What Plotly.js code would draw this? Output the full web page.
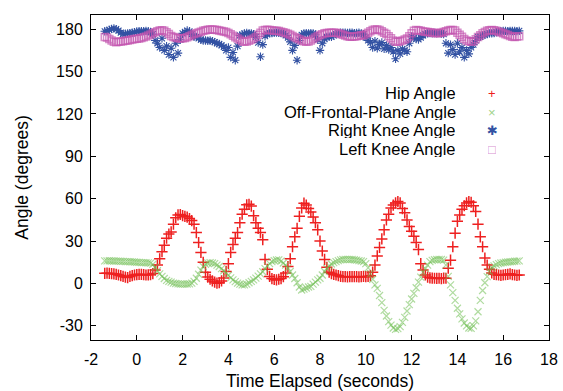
<!DOCTYPE html>
<html>
<head>
<meta charset="utf-8">
<script src="https://cdn.plot.ly/plotly-3.0.1.min.js"></script>
<style>html,body{margin:0;padding:0;background:#fff;}#chart{width:563px;height:391px;}</style>
</head>
<body>
<div id="chart"></div>
<script>
// Time samples (seconds)
var timeElapsed = [
 -1.4,-1.3,-1.2,-1.1,-1.0,-0.9,-0.8,-0.7,-0.6,-0.5,
 -0.4,-0.3,-0.2,-0.1,0.0,0.1,0.2,0.3,0.4,0.5,
 0.6,0.7,0.8,0.9,1.0,1.1,1.2,1.3,1.4,1.5,
 1.6,1.7,1.8,1.9,2.0,2.1,2.2,2.3,2.4,2.5,
 2.6,2.7,2.8,2.9,3.0,3.1,3.2,3.3,3.4,3.5,
 3.6,3.7,3.8,3.9,4.0,4.1,4.2,4.3,4.4,4.5,
 4.6,4.7,4.8,4.9,5.0,5.1,5.2,5.3,5.4,5.5,
 5.6,5.7,5.8,5.9,6.0,6.1,6.2,6.3,6.4,6.5,
 6.6,6.7,6.8,6.9,7.0,7.1,7.2,7.3,7.4,7.5,
 7.6,7.7,7.8,7.9,8.0,8.1,8.2,8.3,8.4,8.5,
 8.6,8.7,8.8,8.9,9.0,9.1,9.2,9.3,9.4,9.5,
 9.6,9.7,9.8,9.9,10.0,10.1,10.2,10.3,10.4,10.5,
 10.6,10.7,10.8,10.9,11.0,11.1,11.2,11.3,11.4,11.5,
 11.6,11.7,11.8,11.9,12.0,12.1,12.2,12.3,12.4,12.5,
 12.6,12.7,12.8,12.9,13.0,13.1,13.2,13.3,13.4,13.5,
 13.6,13.7,13.8,13.9,14.0,14.1,14.2,14.3,14.4,14.5,
 14.6,14.7,14.8,14.9,15.0,15.1,15.2,15.3,15.4,15.5,
 15.6,15.7,15.8,15.9,16.0,16.1,16.2,16.3,16.4,16.5,
 16.6,16.7
];

var hipAngle = [
 7.2,7.3,7.1,7.0,6.8,6.5,6.0,5.6,5.0,4.5,
 4.2,5.0,5.6,6.0,6.3,6.5,6.4,6.2,6.0,6.1,
 6.3,7.0,9.5,13.0,17.5,22.5,27.0,32.0,35.0,36.5,
 42.0,46.5,48.5,48.8,48.0,47.5,47.0,46.0,44.5,42.0,
 36.0,29.0,22.0,15.0,8.0,4.5,3.0,1.8,1.0,0.2,
 0.5,1.8,3.8,8.5,14.0,22.0,27.5,32.0,36.0,43.0,
 49.0,52.5,55.7,56.0,54.8,48.0,43.0,39.0,36.0,31.0,
 17.0,10.0,5.0,3.5,2.8,2.5,3.0,3.5,4.8,7.5,
 12.0,17.5,26.0,33.0,39.0,47.5,53.5,56.8,55.5,53.0,
 50.5,47.0,43.0,38.0,30.0,23.0,17.0,11.5,8.0,7.0,
 6.5,6.0,5.5,5.0,4.8,4.8,4.7,4.8,4.9,4.8,
 4.8,4.7,4.8,5.0,4.8,5.0,5.5,8.0,13.0,19.5,
 25.5,31.5,38.0,45.0,49.0,53.5,55.5,57.0,58.0,57.0,
 53.0,50.0,45.0,40.3,37.0,33.5,29.0,24.0,14.0,9.5,
 6.0,4.5,4.0,3.8,3.7,3.6,3.7,3.5,3.8,3.7,
 10.8,16.5,26.0,35.6,44.0,48.5,52.5,55.0,57.0,58.0,
 57.5,55.0,51.0,42.0,33.0,26.0,18.0,13.0,10.0,7.5,
 6.5,6.2,6.0,5.8,6.0,6.3,6.5,6.8,6.2,6.0,
 5.8,6.0
];

var offFrontalAngle = [
 16.0,16.0,16.1,16.0,15.9,15.8,15.8,15.7,15.6,15.5,
 15.5,15.4,15.3,15.2,15.0,14.9,14.8,14.8,14.7,14.6,
 14.4,13.5,11.5,9.0,6.8,5.0,3.5,2.2,1.5,1.0,
 0.3,0.0,-0.3,-0.5,-0.5,-0.5,-0.4,-0.3,0.2,1.5,
 3.7,6.5,9.5,12.0,13.5,14.5,14.8,14.5,14.0,13.0,
 12.0,10.5,9.0,7.5,5.8,4.0,2.5,1.3,0.3,-0.5,
 -1.0,-1.0,-0.5,0.5,1.5,2.5,3.8,5.2,6.8,8.3,
 10.5,12.5,14.0,15.5,16.2,16.6,16.7,15.8,14.5,13.0,
 11.0,8.5,6.0,3.5,0.5,-2.5,-4.6,-4.0,-3.2,-2.5,
 -2.0,-0.5,1.0,2.5,3.7,6.0,8.5,10.8,12.5,13.8,
 14.8,15.5,16.2,16.7,17.0,17.1,17.1,17.0,17.0,16.8,
 16.5,16.2,15.9,15.5,14.0,11.0,7.0,3.0,-1.0,-3.5,
 -8.5,-13.5,-19.0,-23.0,-27.0,-29.5,-31.5,-32.5,-32.0,-30.5,
 -27.5,-24.0,-19.5,-15.0,-11.0,-7.0,-3.0,1.0,4.5,8.0,
 10.5,13.0,15.5,16.3,16.8,17.0,17.1,17.0,16.5,13.0,
 5.0,-1.0,-6.5,-12.0,-17.5,-21.5,-25.0,-28.0,-30.0,-31.5,
 -31.8,-30.0,-26.5,-20.0,-12.0,-5.0,0.5,4.8,8.5,11.5,
 12.5,13.3,14.0,14.5,14.8,15.0,15.2,15.4,15.5,15.7,
 15.8,16.0
];

var rightKneeAngle = [
 178.5,178.8,179.5,180.2,180.5,180.0,179.0,177.5,176.5,176.8,
 177.0,177.2,177.5,177.8,178.3,178.5,178.6,178.6,178.8,178.5,
 178.0,176.5,172.0,170.0,167.0,173.5,165.0,168.0,162.0,166.5,
 160.0,170.0,163.0,172.5,177.0,178.0,179.0,178.5,176.5,174.6,
 174.5,173.5,172.5,172.0,172.0,171.8,172.0,171.5,170.8,170.0,
 169.5,168.5,167.5,165.0,167.0,160.0,163.5,158.0,168.0,175.5,
 176.0,177.0,177.3,177.0,177.0,176.5,174.5,170.5,160.5,169.0,
 175.0,176.5,177.0,177.3,177.4,177.5,177.4,177.2,176.8,175.5,
 174.0,171.0,165.0,168.5,158.0,172.0,176.0,177.0,177.2,177.0,
 177.2,177.0,176.0,172.5,165.0,170.0,173.0,174.5,174.6,174.5,
 175.5,176.5,177.0,177.4,177.4,177.5,177.3,177.4,177.5,177.2,
 177.3,177.4,177.0,176.5,174.0,172.0,170.5,167.0,171.5,166.5,
 169.0,170.5,166.0,168.5,165.5,167.0,164.0,159.0,165.0,162.5,
 166.0,165.0,164.0,170.0,174.6,174.0,173.0,172.7,174.0,175.5,
 176.5,177.0,177.2,177.0,177.3,177.0,177.2,176.8,176.5,170.0,
 163.0,169.0,165.5,162.0,170.0,164.0,167.0,160.0,165.0,162.5,
 167.0,169.0,172.0,174.5,174.6,175.5,176.0,176.5,177.0,177.0,
 177.3,177.8,178.2,178.5,178.8,178.8,178.6,178.8,178.7,178.8,
 178.6,178.8
];

var leftKneeAngle = [
 174.5,174.0,173.0,172.0,171.0,170.8,171.0,171.2,171.5,171.8,
 172.0,172.3,172.6,173.0,173.2,173.4,173.7,174.2,174.8,175.5,
 176.2,177.0,177.8,178.5,179.0,179.2,178.8,177.8,176.5,175.2,
 174.5,174.0,173.6,173.4,173.5,173.8,174.2,175.0,175.8,176.5,
 177.0,177.6,178.2,178.8,179.2,179.6,179.8,179.8,179.6,179.3,
 179.0,178.6,178.3,178.0,177.3,176.3,175.3,174.3,173.4,172.5,
 171.5,171.0,171.2,171.8,172.5,173.4,174.5,176.0,177.5,179.0,
 179.4,179.5,179.3,179.0,178.8,178.8,178.6,178.2,177.8,177.3,
 176.7,176.0,175.2,174.3,173.5,172.8,172.0,171.5,171.0,171.2,
 172.0,173.0,174.0,175.0,175.8,176.4,177.0,177.2,177.4,177.5,
 177.5,177.4,177.0,176.5,176.0,175.5,175.0,174.6,174.6,174.8,
 175.0,175.3,175.6,175.7,176.5,177.5,178.5,179.3,179.8,179.8,
 179.3,178.5,177.5,176.5,175.0,173.5,172.0,171.0,171.0,171.5,
 172.0,172.7,173.4,175.0,177.0,178.8,179.3,179.2,178.8,178.4,
 178.1,178.0,177.8,177.5,177.2,177.0,177.2,177.5,178.0,178.5,
 179.0,179.3,179.3,179.0,177.5,176.0,174.6,173.0,172.0,171.5,
 171.0,171.5,172.8,174.5,175.7,177.0,178.0,178.8,179.2,179.3,
 179.2,178.8,178.2,177.6,177.0,176.4,175.8,175.2,174.6,174.5,
 174.8,175.0
];

var seriesNames = ['Hip Angle', 'Off-Frontal-Plane Angle', 'Right Knee Angle', 'Left Knee Angle'];
var xTickVals = [-2,0,2,4,6,8,10,12,14,16,18];
var xTickText = ['-2','0','2','4','6','8','10','12','14','16','18'];
var yTickVals = [-30,0,30,60,90,120,150,180];
var yTickText = ['-30','0','30','60','90','120','150','180'];

var colors = ['#ee2020', 'rgba(110,190,80,0.55)', '#3352a3', 'rgba(195,85,175,0.65)'];
var legendGlyph = ['+', '\u00D7', '\u2731', '\u25A1'];
var legendGlyphColor = ['#ee1c1c', '#9fd38a', '#3352a3', '#d890d0'];

var traces = [
  {x: timeElapsed, y: hipAngle, name: seriesNames[0], type: 'scatter', mode: 'markers',
   marker: {symbol: 'cross-thin-open', size: 8, color: colors[0], line: {width: 1.5, color: colors[0]}}},
  {x: timeElapsed, y: offFrontalAngle, name: seriesNames[1], type: 'scatter', mode: 'markers',
   marker: {symbol: 'x-thin-open', size: 7, color: colors[1], line: {width: 1.2, color: colors[1]}}},
  {x: timeElapsed, y: rightKneeAngle, name: seriesNames[2], type: 'scatter', mode: 'markers',
   marker: {symbol: 'asterisk-open', size: 7, color: colors[2], line: {width: 1.1, color: colors[2]}}},
  {x: timeElapsed, y: leftKneeAngle, name: seriesNames[3], type: 'scatter', mode: 'markers',
   marker: {symbol: 'square-open', size: 7, color: colors[3], line: {width: 1.5, color: colors[3]}}}
];

var legendY = [0.760, 0.703, 0.646, 0.589];
var annotations = [];
for (var i = 0; i < seriesNames.length; i++) {
  annotations.push({xref: 'paper', yref: 'paper', x: 0.799, y: legendY[i], xanchor: 'right', yanchor: 'middle',
    height: 16, borderpad: 0,
    text: seriesNames[i], showarrow: false, font: {family: 'Liberation Sans, Arial, sans-serif', size: 16.5, color: '#000'}});
  annotations.push({xref: 'paper', yref: 'paper', x: 0.876, y: legendY[i], xanchor: 'center', yanchor: 'middle',
    height: 14, borderpad: 0,
    text: legendGlyph[i], showarrow: false, font: {family: 'Liberation Sans, DejaVu Sans', size: 13, color: legendGlyphColor[i]}});
}

var layout = {
  width: 563, height: 391,
  margin: {l: 91, r: 14, t: 15, b: 51},
  paper_bgcolor: '#fff', plot_bgcolor: '#fff',
  font: {family: 'Liberation Sans, Arial, sans-serif', size: 16, color: '#000'},
  showlegend: false,
  xaxis: {
    range: [-2, 18], tickvals: xTickVals, ticktext: xTickText, ticks: 'inside', ticklen: 5, tickcolor: '#000',
    showline: true, linecolor: '#000', linewidth: 1, mirror: 'ticks', showgrid: false, zeroline: false,
    tickfont: {size: 16}, ticklabelstandoff: 5,
    title: {text: 'Time Elapsed (seconds)', font: {size: 17.5}, standoff: 11}
  },
  yaxis: {
    range: [-40, 190], tickvals: yTickVals, ticktext: yTickText, ticks: 'inside', ticklen: 5, tickcolor: '#000',
    showline: true, linecolor: '#000', linewidth: 1, mirror: 'ticks', showgrid: false, zeroline: false,
    tickfont: {size: 16}, ticklabelstandoff: 4,
    title: {text: 'Angle (degrees)', font: {size: 17.5}, standoff: 22}
  },
  annotations: annotations
};

Plotly.newPlot('chart', traces, layout, {displayModeBar: false, staticPlot: true});
</script>
</body>
</html>
